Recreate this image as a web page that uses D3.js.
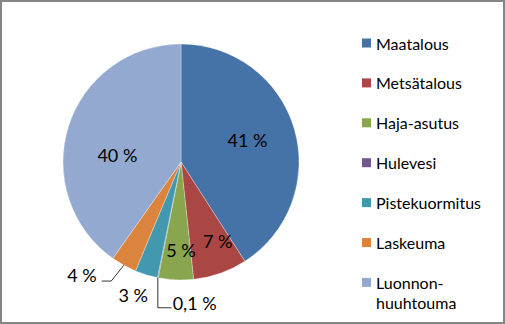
<!DOCTYPE html>
<html lang="fi">
<head>
<meta charset="UTF-8">
<title>Kuormitus</title>
<script src="https://d3js.org/d3.v7.min.js"></script>
<style>
    * { margin: 0; padding: 0; box-sizing: border-box; }
    html, body { width: 505px; height: 324px; background: #fff; overflow: hidden; }
    svg { display: block; font-family: Lato, "Open Sans", sans-serif; }
</style>
</head>
<body>
<svg id="chart" width="505" height="324"></svg>
<script>
    // data
    const categories = ["Maatalous", "Metsätalous", "Haja-asutus", "Hulevesi", "Pistekuormitus", "Laskeuma", "Luonnon-huuhtouma"];
    const values = [40.9, 7.4, 4.8, 0.1, 3.1, 3.5, 40.2];
    const colors = ["#4572A7", "#AA4643", "#89A54E", "#71588F", "#4198AF", "#DB843D", "#93A9CF"];

    const width = 505, height = 324;
    const cx = 181, cy = 162, R = 118;

    const svg = d3.select("#chart");

    // frame
    svg.append("rect")
        .attr("x", 1).attr("y", 1)
        .attr("width", width - 2).attr("height", height - 2)
        .attr("fill", "#fff")
        .attr("stroke", "#868686")
        .attr("stroke-width", 2);

    const total = d3.sum(values);
    const fmt = v => {
        const p = v / total * 100;
        return (p < 1 ? p.toFixed(1).replace(".", ",") : Math.round(p)) + " %";
    };

    const pie = d3.pie().sort(null).value(d => d)(values);
    const arc = d3.arc().innerRadius(0).outerRadius(R);

    const g = svg.append("g").attr("transform", `translate(${cx},${cy})`);

    g.selectAll("path")
        .data(pie)
        .join("path")
        .attr("d", arc)
        .attr("fill", (d, i) => colors[i])
        .attr("stroke", "#fff")
        .attr("stroke-opacity", 0.6)
        .attr("stroke-width", 0.5);

    // label placement (best fit): radius, angle in degrees, anchor
    const labelPlace = [
        { r: 70, a: 72, anchor: "middle" },
        { r: 87, a: 155, anchor: "middle" },
        { r: 88, a: 180, anchor: "middle" },
        { r: 141, a: 183.4, anchor: "start", leader: "down" },
        { r: 141, a: 199.8, anchor: "middle" },
        { r: 141, a: 216.7, anchor: "end", leader: "side" },
        { r: 64, a: 276, anchor: "middle" }
    ];

    const polar = (r, deg) => {
        const t = deg * Math.PI / 180;
        return [r * Math.sin(t), -r * Math.cos(t)];
    };

    pie.forEach((d, i) => {
        const lp = labelPlace[i];
        const [lx, ly] = polar(lp.r, lp.a);
        g.append("text")
            .attr("x", lx).attr("y", ly)
            .attr("text-anchor", lp.anchor)
            .attr("dominant-baseline", "central")
            .attr("font-size", 18)
            .attr("fill", "#000")
            .text(fmt(values[i]));

        if (lp.leader) {
            const mid = (d.startAngle + d.endAngle) / 2;
            const p0 = [R * Math.sin(mid), -R * Math.cos(mid)];
            let pts;
            if (lp.leader === "down") {
                const end = [lx - 1, ly + 5];
                pts = [p0, [p0[0], end[1]], end];
            } else {
                const end = [lx + 5, ly + 6];
                pts = [p0, [end[0] + 9.5, end[1]], end];
            }
            g.append("path")
                .attr("d", d3.line()(pts))
                .attr("fill", "none")
                .attr("stroke", "#000")
                .attr("stroke-width", 0.8);
        }
    });

    // legend
    const legend = svg.append("g").attr("transform", "translate(362,43)");
    const step = 39.9;
    categories.forEach((c, i) => {
        const row = legend.append("g").attr("transform", `translate(0,${i * step})`);
        row.append("rect")
            .attr("x", 0).attr("y", -4.5)
            .attr("width", 9).attr("height", 9)
            .attr("fill", colors[i]);
        const lines = c.includes("-") && c.length > 14 ? [c.slice(0, c.indexOf("-") + 1), c.slice(c.indexOf("-") + 1)] : [c];
        lines.forEach((t, k) => {
            row.append("text")
                .attr("x", 14).attr("y", k * 20)
                .attr("dominant-baseline", "central")
                .attr("font-size", 16)
                .attr("fill", "#000")
                .text(t);
        });
    });
</script>
</body>
</html>
